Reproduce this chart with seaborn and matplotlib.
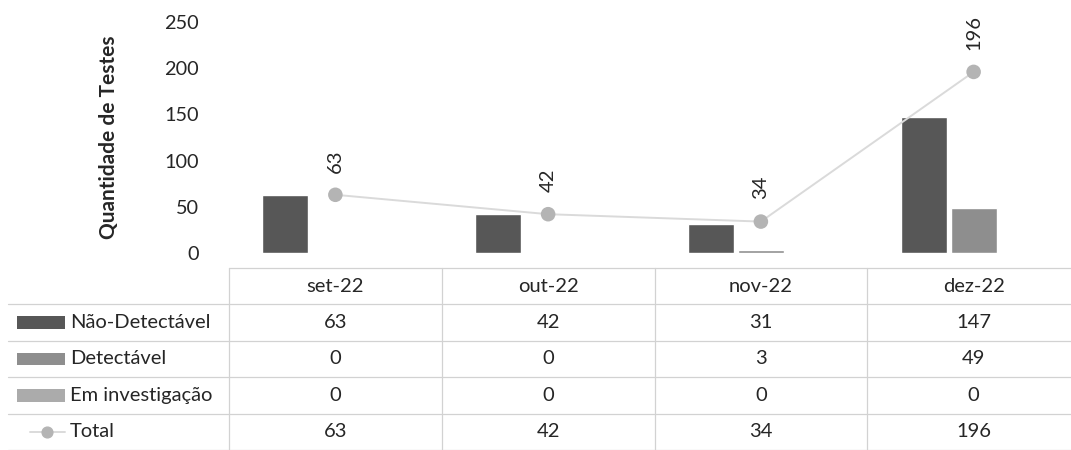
# plot.py
# Quantidade de testes por mes, barras agrupadas + total, com tabela de dados embaixo

import numpy as np
import pandas as pd
import matplotlib
matplotlib.use('Agg')
import matplotlib.pyplot as plt
import seaborn as sns

meses = ['set-22', 'out-22', 'nov-22', 'dez-22']
nao_detectavel = [63, 42, 31, 147]
detectavel = [0, 0, 3, 49]
em_investigacao = [0, 0, 0, 0]
total = [63, 42, 34, 196]
series = ['Não-Detectável', 'Detectável', 'Em investigação']
cores = ['#575757', '#8e8e8e', '#ababab']
cor_total = '#b4b4b4'
cor_linha = '#dadada'
cor_grade = '#d2d2d2'
y_ticks = [0, 50, 100, 150, 200, 250]

sns.set_style('white')
plt.rcParams['font.family'] = ['Lato', 'DejaVu Sans']
plt.rcParams['text.color'] = '#262626'

df = pd.DataFrame({
    'mes': meses * 3,
    'serie': [s for s in series for _ in meses],
    'valor': nao_detectavel + detectavel + em_investigacao,
})

W, H = 1071, 450
fig = plt.figure(figsize=(W / 100, H / 100), dpi=100)

# plot area in pixels
x0, x1 = 229, 1080
y_top, y_zero = 22, 253
ax = fig.add_axes([x0 / W, (H - y_zero) / H, (x1 - x0) / W, (y_zero - y_top) / H])

sns.barplot(data=df, x='mes', y='valor', hue='serie', hue_order=series,
            palette=cores, width=0.705, gap=0.08, legend=False, ax=ax,
            order=meses, zorder=2)
pos = np.arange(len(meses))
sns.lineplot(x=pos, y=total, color=cor_linha, linewidth=1.4, ax=ax, zorder=3)
sns.scatterplot(x=pos, y=total, color=cor_total, s=110, edgecolor='none', ax=ax, zorder=4)
for i, v in enumerate(total):
    ax.annotate(str(v), (i, v), xytext=(0, 16), textcoords='offset points',
                rotation=90, ha='center', va='bottom', fontsize=14.5)

ax.set_xlim(-0.5, 3.5)
ax.set_ylim(0, 250)
ax.set_yticks(y_ticks)
ax.tick_params(axis='y', length=0, labelsize=14.3, pad=22, labelcolor='#262626')
ax.set_xticks([])
ax.set_xlabel('')
ax.set_ylabel('Quantidade de Testes', fontsize=15, fontweight='bold', labelpad=32)
sns.despine(ax=ax, left=True, bottom=True)

# data table
t_top = 268
tab = fig.add_axes([x0 / W, 0, (x1 - x0) / W, (H - t_top) / H])
tab.set_xlim(-0.5, 3.5)
tab.set_ylim(5, 0)
tab.axis('off')

px = (x1 - x0) / 4.0
xl = -0.5 + (8 - x0) / px
tab.plot([-0.5, 3.5], [0, 0], color=cor_grade, lw=0.9, clip_on=False)
for r in range(1, 6):
    tab.plot([xl, 3.5], [r, r], color=cor_grade, lw=0.9, clip_on=False)
for c in range(4):
    tab.plot([c - 0.5, c - 0.5], [0, 5], color=cor_grade, lw=0.9, clip_on=False)

for i, m in enumerate(meses):
    tab.text(i, 0.5, m, ha='center', va='center', fontsize=14.5)

linhas = [nao_detectavel, detectavel, em_investigacao, total]
nomes = series + ['Total']
sw0 = -0.5 + (17 - x0) / px
sw1 = -0.5 + (65 - x0) / px
xt = -0.5 + (70 - x0) / px
for r, (nome, vals) in enumerate(zip(nomes, linhas), start=1):
    yc = r + 0.5
    if r <= 3:
        tab.fill_between([sw0, sw1], yc - 0.17, yc + 0.17, color=cores[r - 1],
                         lw=0, clip_on=False)
    else:
        tab.plot([-0.5 + (30 - x0) / px, sw1], [yc, yc], color=cor_linha, lw=1.4, clip_on=False)
        tab.scatter([-0.5 + (47 - x0) / px], [yc], color=cor_total, s=60, clip_on=False, zorder=3)
    tab.text(xt, yc, nome, ha='left', va='center', fontsize=14.5)
    for i, v in enumerate(vals):
        tab.text(i, yc, str(v), ha='center', va='center', fontsize=14.5)

fig.savefig('out.png', dpi=100)
